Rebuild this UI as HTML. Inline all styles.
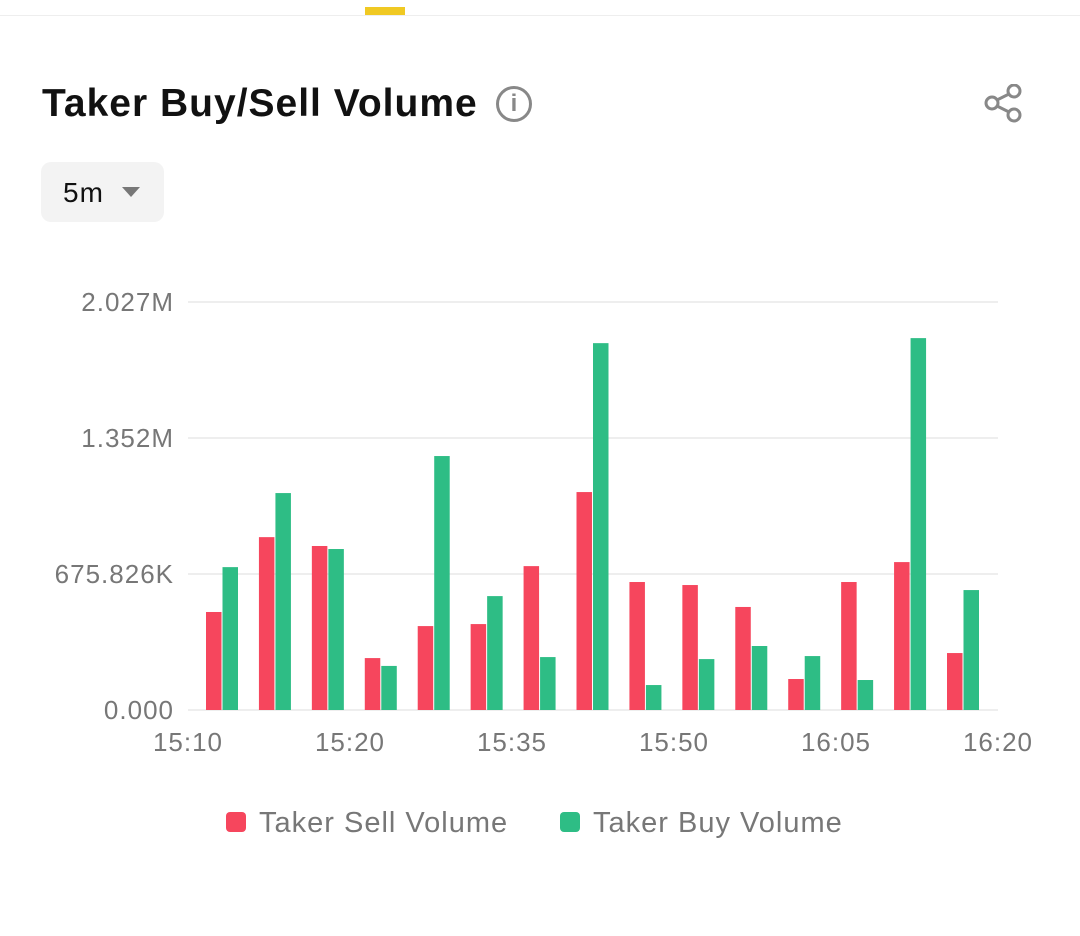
<!DOCTYPE html>
<html><head><meta charset="utf-8"><style>
body{margin:0;width:1080px;height:936px;background:#fff;font-family:"Liberation Sans",sans-serif;position:relative;overflow:hidden}
.topline{position:absolute;left:0;top:15px;width:1080px;height:1px;background:#eee}
.tab{position:absolute;left:365px;top:7px;width:40px;height:8px;background:#f0c923}
h1{position:absolute;left:42px;top:82px;margin:0;font-size:39px;font-weight:bold;color:#111;letter-spacing:1px}
.info{position:absolute;left:496px;top:86px;width:36px;height:36px;border:3px solid #888;border-radius:50%;box-sizing:border-box;color:#888;font-size:24px;text-align:center;line-height:30px;font-weight:bold}
.share{position:absolute;left:984px;top:84px}
.sel{position:absolute;left:41px;top:162px;width:123px;height:60px;background:#f3f3f3;border-radius:10px}
.sel span{position:absolute;left:22px;top:15px;font-size:28px;color:#111;letter-spacing:1px}
.sel i{position:absolute;left:81px;top:25px;border-left:9px solid transparent;border-right:9px solid transparent;border-top:10px solid #777}
</style></head><body>
<div class="topline"></div>
<div class="tab"></div>
<h1>Taker Buy/Sell Volume</h1>
<div class="info">i</div>
<svg class="share" width="40" height="40"><g stroke="#888" stroke-width="3" fill="none"><circle cx="8" cy="19" r="6"/><circle cx="30" cy="7" r="6"/><circle cx="30" cy="31" r="6"/><line x1="13" y1="16" x2="25" y2="10"/><line x1="13" y1="22" x2="25" y2="28"/></g></svg>
<div class="sel"><span>5m</span><i></i></div>
<svg id="chart" width="1080" height="936" style="position:absolute;left:0;top:0"></svg>
<script>
const sellValues=[0.487,0.859,0.815,0.258,0.417,0.427,0.715,1.083,0.636,0.621,0.512,0.154,0.636,0.735,0.283];
const buyValues=[0.710,1.078,0.800,0.219,1.262,0.566,0.263,1.823,0.124,0.253,0.318,0.268,0.149,1.848,0.596];
const yTicks=[0,0.675826,1.351652,2.027478];
const yTickLabels=["0.000","675.826K","1.352M","2.027M"];
const xTickLabels=["15:10","15:20","15:35","15:50","16:05","16:20"];
const svg=document.getElementById('chart');const NS='http://www.w3.org/2000/svg';
const x0=188,x1=998,y0=710,yTop=302,yMax=2.027478;
const ys=v=>y0-(v/yMax)*(y0-yTop);
const n=sellValues.length;
const cx=i=>222+i*(963-222)/(n-1);
function el(t,a){const e=document.createElementNS(NS,t);for(const k in a)e.setAttribute(k,a[k]);svg.appendChild(e);return e;}
yTicks.forEach((v,i)=>{
 const g=el('line',{x1:x0,x2:x1,y1:ys(v),y2:ys(v),stroke:'#eeeeee','stroke-width':2});
 
 
 const t=el('text',{x:174,y:ys(v)+9,'text-anchor':'end','font-size':26,'letter-spacing':1,fill:'#777','font-family':'Liberation Sans, sans-serif'});
 t.textContent=yTickLabels[i];
 
 
});
xTickLabels.forEach((l,i)=>{
 const t=el('text',{x:x0+i*(x1-x0)/(xTickLabels.length-1),y:751,'text-anchor':'middle','font-size':26,'letter-spacing':1,fill:'#777','font-family':'Liberation Sans, sans-serif'});
 t.textContent=l;
 
 
});
for(let i=0;i<n;i++){
 const s=el('rect',{x:cx(i)-16,y:ys(sellValues[i]),width:15.5,height:y0-ys(sellValues[i]),fill:'#f6465d'});
 
 
 const b=el('rect',{x:cx(i)+0.5,y:ys(buyValues[i]),width:15.5,height:y0-ys(buyValues[i]),fill:'#2ebd85'});
 
 
}
const legend=[["Taker Sell Volume","#f6465d",226],["Taker Buy Volume","#2ebd85",560]];
legend.forEach(([l,c,x])=>{
 const r=el('rect',{x:x,y:812,width:20,height:20,rx:4,fill:c});
 
 
 const t=el('text',{x:x+33,y:832,'font-size':29,'letter-spacing':1,fill:'#777','font-family':'Liberation Sans, sans-serif'});
 t.textContent=l;
 
 
});
</script>
</body></html>
